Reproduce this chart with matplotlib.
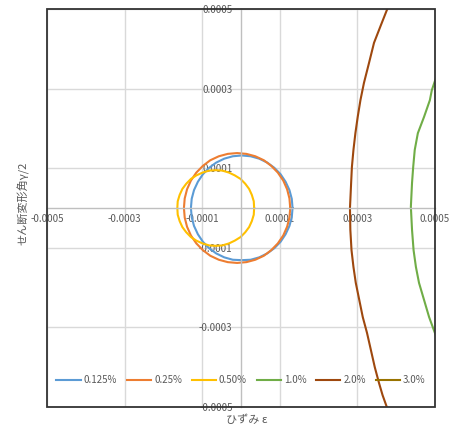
import matplotlib
matplotlib.use("Agg")
import matplotlib.pyplot as plt
from matplotlib.patches import Rectangle
import numpy as np

plt.rcParams['font.family'] = ['Noto Sans CJK JP', 'DejaVu Sans']

# values in units of 1e-4 (strain eps, shear gamma/2)
x_0125 = [1.33, 1.31, 1.25, 1.15, 1.02, 0.86, 0.68, 0.47, 0.25, 0.02, -0.21, -0.43, -0.64,
          -0.82, -0.98, -1.11, -1.21, -1.27, -1.29, -1.27, -1.21, -1.11, -0.98, -0.82, -0.64,
          -0.43, -0.21, 0.02, 0.25, 0.47, 0.68, 0.86, 1.02, 1.15, 1.25, 1.31, 1.33]
y_0125 = [0.00, 0.23, 0.45, 0.66, 0.85, 1.01, 1.14, 1.24, 1.30, 1.32, 1.30, 1.24, 1.14,
          1.01, 0.85, 0.66, 0.45, 0.23, 0.00, -0.23, -0.45, -0.66, -0.85, -1.01, -1.14,
          -1.24, -1.30, -1.31, -1.30, -1.24, -1.14, -1.01, -0.85, -0.66, -0.45, -0.23, 0.00]
x_025 = [1.27, 1.25, 1.19, 1.09, 0.95, 0.78, 0.59, 0.37, 0.14, -0.10, -0.34, -0.57, -0.79,
         -0.98, -1.15, -1.29, -1.39, -1.45, -1.47, -1.45, -1.39, -1.29, -1.15, -0.98, -0.79,
         -0.57, -0.34, -0.10, 0.14, 0.37, 0.59, 0.78, 0.95, 1.09, 1.19, 1.25, 1.27]
y_025 = [0.00, 0.24, 0.47, 0.69, 0.89, 1.06, 1.20, 1.30, 1.36, 1.38, 1.36, 1.30, 1.20,
         1.06, 0.89, 0.69, 0.47, 0.24, 0.00, -0.24, -0.47, -0.69, -0.89, -1.06, -1.20,
         -1.30, -1.36, -1.38, -1.36, -1.30, -1.20, -1.06, -0.89, -0.69, -0.47, -0.24, 0.00]
x_050 = [0.34, 0.33, 0.28, 0.21, 0.11, -0.01, -0.16, -0.31, -0.48, -0.65, -0.82, -0.99, -1.15,
         -1.29, -1.41, -1.51, -1.58, -1.63, -1.64, -1.63, -1.58, -1.51, -1.41, -1.29, -1.15,
         -0.99, -0.82, -0.65, -0.48, -0.31, -0.16, -0.01, 0.11, 0.21, 0.28, 0.33, 0.34]
y_050 = [0.00, 0.17, 0.33, 0.48, 0.61, 0.73, 0.82, 0.89, 0.94, 0.95, 0.94, 0.89, 0.82,
         0.73, 0.61, 0.48, 0.33, 0.17, 0.00, -0.17, -0.33, -0.48, -0.61, -0.73, -0.82,
         -0.89, -0.94, -0.95, -0.94, -0.89, -0.82, -0.73, -0.61, -0.48, -0.33, -0.17, 0.00]
x_10 = [5.25, 5.01, 4.92, 4.87, 4.72, 4.56, 4.48, 4.44, 4.41, 4.38, 4.41, 4.45, 4.51,
        4.59, 4.72, 4.85, 5.00, 5.22]
y_10 = [3.80, 3.22, 2.96, 2.71, 2.29, 1.88, 1.46, 1.03, 0.63, 0.03, -0.55, -1.06, -1.48,
        -1.88, -2.31, -2.74, -3.14, -3.70]
x_20 = [3.95, 3.76, 3.61, 3.43, 3.30, 3.17, 3.08, 3.01, 2.95, 2.90, 2.86, 2.84, 2.82, 2.81,
        2.82, 2.85, 2.90, 2.96, 3.05, 3.14, 3.25, 3.35, 3.45, 3.56, 3.65, 3.76, 3.95]
y_20 = [5.40, 4.97, 4.60, 4.15, 3.64, 3.14, 2.71, 2.29, 1.88, 1.46, 1.03, 0.63, 0.20, 0.00,
        -0.55, -1.06, -1.48, -1.88, -2.31, -2.74, -3.14, -3.57, -4.00, -4.40, -4.70, -5.00, -5.40]
x_30 = []
y_30 = []

series = [("0.125%", x_0125, y_0125, "#5B9BD5"),
          ("0.25%", x_025, y_025, "#ED7D31"),
          ("0.50%", x_050, y_050, "#FFC000"),
          ("1.0%", x_10, y_10, "#70AD47"),
          ("2.0%", x_20, y_20, "#9E480E"),
          ("3.0%", x_30, y_30, "#997300")]

ticks = [-5e-4, -3e-4, -1e-4, 1e-4, 3e-4, 5e-4]
tick_labels = ["-0.0005", "-0.0003", "-0.0001", "0.0001", "0.0003", "0.0005"]

fig = plt.figure(figsize=(4.58, 4.28), dpi=100)
ax = fig.add_axes([0.1026, 0.049, 0.847, 0.93])

for name, xs, ys, col in series:
    ax.plot(np.array(xs) * 1e-4, np.array(ys) * 1e-4, color=col, lw=1.5, label=name,
            solid_joinstyle="round")

ax.set_xlim(-5e-4, 5e-4)
ax.set_ylim(-5e-4, 5e-4)
ax.set_xticks(ticks, labels=tick_labels)
ax.set_yticks(ticks, labels=tick_labels)
ax.grid(True, color="#d9d9d9", lw=1)
ax.set_axisbelow(True)

for s in ["left", "bottom"]:
    ax.spines[s].set_position(("data", 0))
    ax.spines[s].set_color("#bfbfbf")
    ax.spines[s].set_linewidth(1)
for s in ["top", "right"]:
    ax.spines[s].set_visible(False)
ax.add_patch(Rectangle((0, 0), 1, 1, transform=ax.transAxes, fill=False,
                       edgecolor="#333333", lw=1.3, clip_on=False, zorder=5))

ax.tick_params(axis="both", length=0, labelsize=7, labelcolor="#595959")
ax.tick_params(axis="y", pad=6)
ax.tick_params(axis="x", pad=4)

fig.text(0.051, 0.526, "せん断変形角γ/2", rotation=90, ha="center", va="center",
         fontsize=8, color="#595959")
fig.text(0.538, 0.019, "ひずみ ε", ha="center", va="center", fontsize=8, color="#595959")

ax.legend(loc="center", bbox_to_anchor=(0.5, 0.068), ncol=6, frameon=False,
          fontsize=7, labelcolor="#595959", handlelength=2.5, handletextpad=0.3,
          columnspacing=1.0)

fig.savefig("out.png", dpi=100)
